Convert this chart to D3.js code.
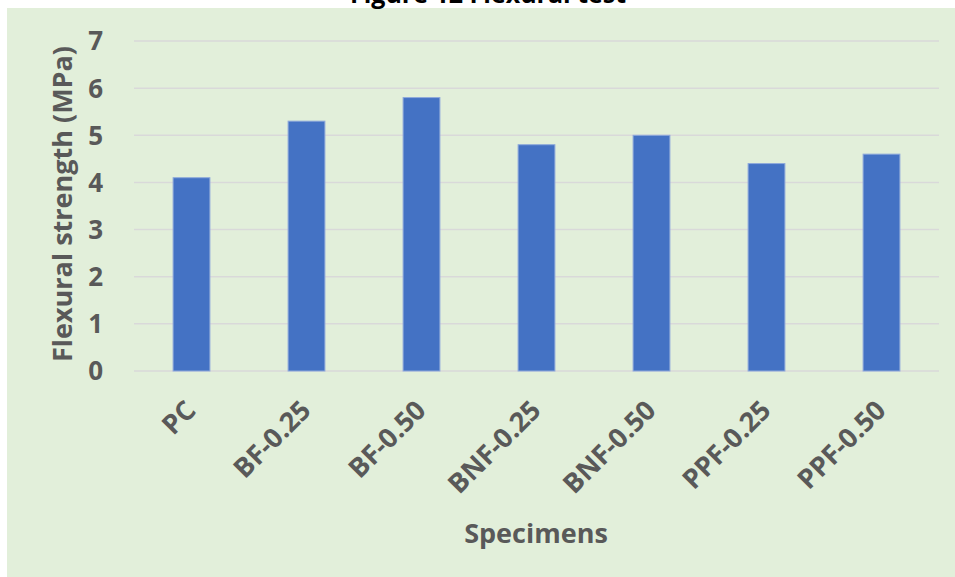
<!DOCTYPE html>
<html>
<head>
<meta charset="utf-8">
<script src="https://cdn.jsdelivr.net/npm/d3@7"></script>
<style>
  html, body { margin: 0; padding: 0; background: #ffffff; }
  svg { display: block; }
  text { font-family: "Open Sans", "Noto Sans", sans-serif; font-weight: bold; }
</style>
</head>
<body>
<script>
// Flexural strength per specimen mix
const categories = ["PC", "BF-0.25", "BF-0.50", "BNF-0.25", "BNF-0.50", "PPF-0.25", "PPF-0.50"];
const strength = [4.1, 5.3, 5.8, 4.8, 5.0, 4.4, 4.6];
const yTicks = [0, 1, 2, 3, 4, 5, 6, 7];

const W = 955, H = 577;
const plot = { left: 134, right: 939, top: 41, bottom: 371 };

const svg = d3.select("body").append("svg")
  .attr("width", W).attr("height", H);

// chart area background
svg.append("rect")
  .attr("x", 7).attr("y", 8)
  .attr("width", W - 7).attr("height", H - 8)
  .attr("fill", "#E2EFDA");

// title (sits above the chart area)
svg.append("text")
  .attr("x", 488).attr("y", 3)
  .attr("text-anchor", "middle")
  .attr("font-size", 25)
  .attr("fill", "#000000")
  .text("Figure 12 Flexural test");

const x = d3.scaleBand()
  .domain(categories)
  .range([plot.left, plot.right])
  .paddingInner(0.68)
  .paddingOuter(0.34);

const y = d3.scaleLinear()
  .domain([0, 7])
  .range([plot.bottom, plot.top]);

// horizontal gridlines
svg.append("g")
  .selectAll("line")
  .data(yTicks)
  .join("line")
  .attr("x1", plot.left).attr("x2", plot.right)
  .attr("y1", d => y(d)).attr("y2", d => y(d))
  .attr("stroke", "#D9D9D9")
  .attr("stroke-width", 1.5);

// y tick labels
svg.append("g")
  .selectAll("text")
  .data(yTicks)
  .join("text")
  .attr("x", 103)
  .attr("y", d => y(d))
  .attr("dy", "0.36em")
  .attr("text-anchor", "end")
  .attr("font-size", 26)
  .attr("fill", "#595959")
  .text(d => d);

// bars
svg.append("g")
  .selectAll("rect")
  .data(categories.map((c, i) => ({ c, v: strength[i] })))
  .join("rect")
  .attr("x", d => x(d.c))
  .attr("y", d => y(d.v))
  .attr("width", x.bandwidth())
  .attr("height", d => y(0) - y(d.v))
  .attr("fill", "#4472C4")
  .attr("stroke", "#8EA9DB")
  .attr("stroke-width", 1);

// x tick labels, rotated
svg.append("g")
  .selectAll("text")
  .data(categories)
  .join("text")
  .attr("transform", d => `translate(${x(d) + x.bandwidth() / 2 + 6},412) rotate(-45)`)
  .attr("text-anchor", "end")
  .attr("font-size", 27)
  .attr("fill", "#595959")
  .text(d => d);

// axis titles
svg.append("text")
  .attr("x", 536).attr("y", 543)
  .attr("text-anchor", "middle")
  .attr("font-size", 27)
  .attr("fill", "#595959")
  .text("Specimens");

svg.append("text")
  .attr("transform", `translate(72,${(plot.top + plot.bottom) / 2 - 2}) rotate(-90)`)
  .attr("text-anchor", "middle")
  .attr("font-size", 27)
  .attr("fill", "#595959")
  .text("Flexural strength (MPa)");
</script>
</body>
</html>
